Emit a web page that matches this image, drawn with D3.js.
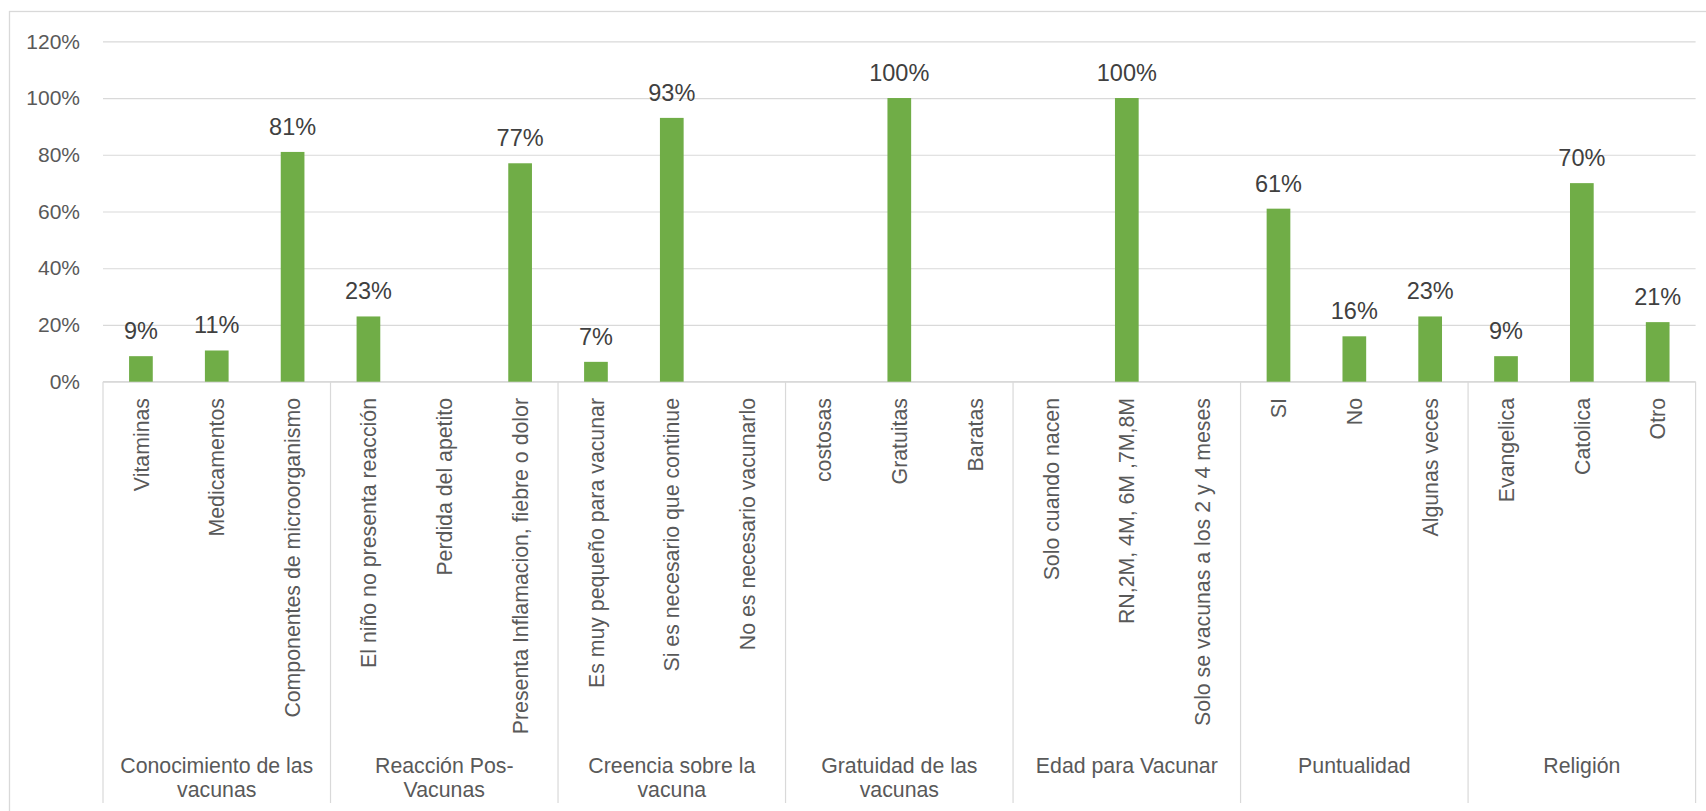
<!DOCTYPE html>
<html>
<head>
<meta charset="utf-8">
<script src="https://cdn.jsdelivr.net/npm/d3@7"></script>
<style>
  body { margin: 0; background: #fff; }
  svg { display: block; font-family: 'Liberation Sans', Arial, sans-serif; }
  .y-axis text { fill: #595959; font-size: 21px; }
  .cat-label { fill: #595959; font-size: 21.3px; }
  .group-label { fill: #595959; font-size: 21.3px; }
  .bar-label { fill: #404040; font-size: 23.5px; }
</style>
</head>
<body>
<svg id="chart" width="1706" height="811"></svg>
<script>
// group names, already split in lines the way the original wraps them
const groupLabels = [
  ['Conocimiento de las', 'vacunas'],
  ['Reacción Pos-', 'Vacunas'],
  ['Creencia sobre la', 'vacuna'],
  ['Gratuidad de las', 'vacunas'],
  ['Edad para Vacunar'],
  ['Puntualidad'],
  ['Religión']
]

const categories = [
  'Vitaminas', 'Medicamentos', 'Componentes de microorganismo',
  'El niño no presenta reacción', 'Perdida del apetito', 'Presenta Inflamacion, fiebre o dolor',
  'Es muy pequeño para vacunar', 'Si es necesario que continue', 'No es necesario vacunarlo',
  'costosas', 'Gratuitas', 'Baratas',
  'Solo cuando nacen', 'RN,2M, 4M, 6M ,7M,8M', 'Solo se vacunas a los 2 y 4 meses',
  'SI', 'No', 'Algunas veces',
  'Evangelica', 'Catolica', 'Otro'
]

// null = empty cell (no bar, no label)
const values = [
  0.09, 0.11, 0.81,
  0.23, null, 0.77,
  0.07, 0.93, null,
  null, 1.00, null,
  null, 1.00, null,
  0.61, 0.16, 0.23,
  0.09, 0.70, 0.21
]

const yTicks = [0, 0.2, 0.4, 0.6, 0.8, 1.0, 1.2]

const GROUP_SIZE = 3
const PLOT = {left: 103, right: 1695.6, top: 41.3, bottom: 381.7}
const AXIS_BOTTOM = 803
const GRID = '#d9d9d9'

let svg = d3.select('#chart')

// outer chart border
svg.append('rect')
  .attr('x', 9.5)
  .attr('y', 11.5)
  .attr('width', 1710)
  .attr('height', 820)
  .attr('fill', 'none')
  .attr('stroke', GRID)
  .attr('stroke-width', 1.3)

let xScale = d3.scaleBand()
  .domain(d3.range(categories.length))
  .range([PLOT.left, PLOT.right])
  .paddingInner(0)

let barScale = d3.scaleBand()
  .domain(d3.range(categories.length))
  .range([PLOT.left, PLOT.right])
  .paddingInner(0.6875)
  .paddingOuter(0.34375)

let yScale = d3.scaleLinear()
  .domain([0, 1.2])
  .range([PLOT.bottom, PLOT.top])

// gridlines + labels
let yAxis = d3.axisLeft(yScale)
  .tickValues(yTicks)
  .tickFormat(d3.format('.0%'))
  .tickSize(-(PLOT.right - PLOT.left))
  .tickPadding(23)

let yG = svg.append('g')
  .attr('class', 'y-axis')
  .attr('transform', 'translate(' + PLOT.left + ',0)')
  .call(yAxis)
yG.select('.domain').remove()
yG.selectAll('line').attr('stroke', GRID).attr('stroke-width', 1.2)
yG.selectAll('text').attr('font-family', null).attr('font-size', null)

// category axis line
svg.append('line')
  .attr('x1', PLOT.left).attr('x2', PLOT.right)
  .attr('y1', PLOT.bottom).attr('y2', PLOT.bottom)
  .attr('stroke', GRID).attr('stroke-width', 1.2)

// group separators, running down through the label area
let sepIdx = d3.range(0, categories.length + 1, GROUP_SIZE)
svg.selectAll('.sep')
  .data(sepIdx)
  .enter().append('line')
  .attr('class', 'sep')
  .attr('x1', i => i < categories.length ? xScale(i) : PLOT.right)
  .attr('x2', i => i < categories.length ? xScale(i) : PLOT.right)
  .attr('y1', PLOT.bottom)
  .attr('y2', AXIS_BOTTOM)
  .attr('stroke', GRID)
  .attr('stroke-width', 1.2)

let barData = values.map((v, i) => ({i: i, value: v})).filter(d => d.value !== null)

svg.selectAll('.bar')
  .data(barData)
  .enter().append('rect')
  .attr('class', 'bar')
  .attr('x', d => barScale(d.i))
  .attr('y', d => yScale(d.value))
  .attr('width', barScale.bandwidth())
  .attr('height', d => yScale(0) - yScale(d.value))
  .attr('fill', '#70ad47')

svg.selectAll('.bar-label')
  .data(barData)
  .enter().append('text')
  .attr('class', 'bar-label')
  .attr('x', d => xScale(d.i) + xScale.bandwidth() / 2)
  .attr('y', d => yScale(d.value) - 17)
  .attr('text-anchor', 'middle')
  .text(d => d3.format('.0%')(d.value))

// rotated category labels
svg.selectAll('.cat-label')
  .data(categories)
  .enter().append('text')
  .attr('class', 'cat-label')
  .attr('transform', (d, i) => {
    let x = xScale(i) + xScale.bandwidth() / 2
    return 'translate(' + x + ',398) rotate(-90)'
  })
  .attr('dy', '0.36em')
  .attr('text-anchor', 'end')
  .text(d => d)

// group labels under the rotated ones
let groupText = svg.selectAll('.group-label')
  .data(groupLabels)
  .enter().append('text')
  .attr('class', 'group-label')
  .attr('text-anchor', 'middle')
  .attr('transform', (d, g) => {
    let x = (xScale(g * GROUP_SIZE) + xScale(g * GROUP_SIZE + GROUP_SIZE - 1) + xScale.bandwidth()) / 2
    return 'translate(' + x + ',773)'
  })

groupText.selectAll('tspan')
  .data(d => d)
  .enter().append('tspan')
  .attr('x', 0)
  .attr('y', (d, i) => i * 24)
  .text(d => d)
</script>
</body>
</html>
